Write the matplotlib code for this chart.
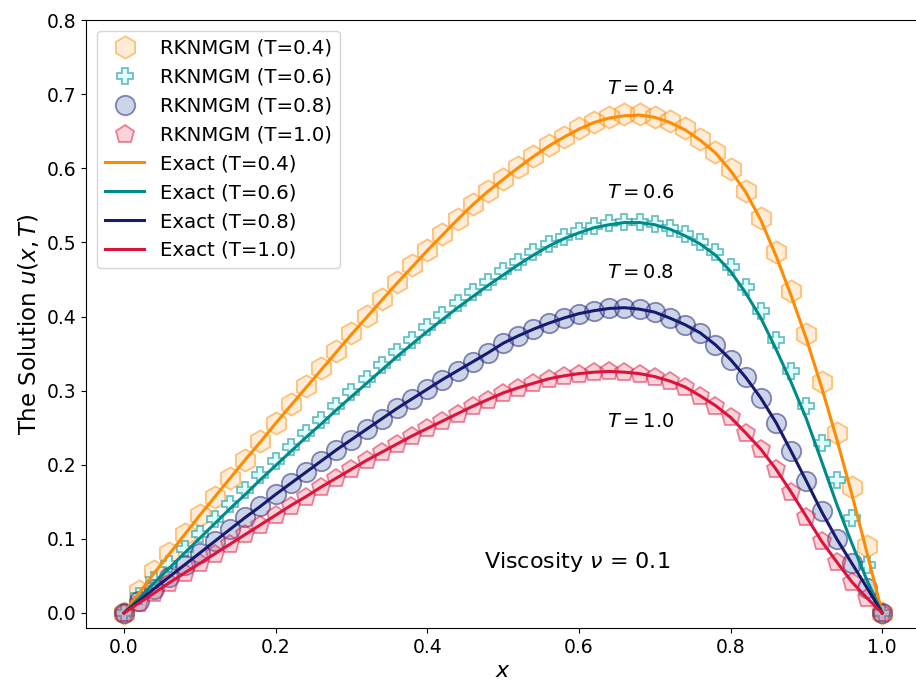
import matplotlib
matplotlib.use("Agg")
import matplotlib.pyplot as plt

plt.rcParams['font.family'] = ['DejaVu Sans']
plt.rcParams['mathtext.fontset'] = 'dejavusans'

x = [0.00, 0.02, 0.04, 0.06, 0.08, 0.10, 0.12, 0.14, 0.16, 0.18,
     0.20, 0.22, 0.24, 0.26, 0.28, 0.30, 0.32, 0.34, 0.36, 0.38,
     0.40, 0.42, 0.44, 0.46, 0.48, 0.50, 0.52, 0.54, 0.56, 0.58,
     0.60, 0.62, 0.64, 0.66, 0.68, 0.70, 0.72, 0.74, 0.76, 0.78,
     0.80, 0.82, 0.84, 0.86, 0.88, 0.90, 0.92, 0.94, 0.96, 0.98, 1.00]

# Exact solution (lines)
exact_04 = [0.000, 0.027, 0.054, 0.080, 0.106, 0.132, 0.157, 0.182, 0.207, 0.231,
            0.256, 0.280, 0.304, 0.328, 0.352, 0.376, 0.399, 0.422, 0.445, 0.467,
            0.489, 0.510, 0.531, 0.551, 0.569, 0.585, 0.601, 0.616, 0.630, 0.642,
            0.653, 0.662, 0.668, 0.671, 0.672, 0.669, 0.662, 0.652, 0.638, 0.621,
            0.597, 0.568, 0.530, 0.482, 0.428, 0.370, 0.305, 0.235, 0.160, 0.081, 0.000]
exact_06 = [0.000, 0.020, 0.041, 0.061, 0.081, 0.101, 0.121, 0.141, 0.160, 0.180,
            0.199, 0.218, 0.237, 0.255, 0.274, 0.292, 0.310, 0.328, 0.346, 0.363,
            0.380, 0.396, 0.412, 0.427, 0.442, 0.456, 0.470, 0.483, 0.495, 0.505,
            0.513, 0.520, 0.524, 0.527, 0.527, 0.524, 0.518, 0.509, 0.498, 0.483,
            0.461, 0.432, 0.398, 0.356, 0.311, 0.262, 0.205, 0.147, 0.094, 0.044, 0.000]
exact_08 = [0.000, 0.0165, 0.033, 0.049, 0.065, 0.081, 0.097, 0.113, 0.129, 0.144,
            0.160, 0.175, 0.190, 0.205, 0.220, 0.234, 0.248, 0.262, 0.276, 0.289,
            0.302, 0.315, 0.327, 0.339, 0.351, 0.364, 0.374, 0.383, 0.391, 0.398,
            0.404, 0.408, 0.411, 0.412, 0.410, 0.406, 0.398, 0.389, 0.378, 0.362,
            0.342, 0.318, 0.290, 0.257, 0.218, 0.178, 0.137, 0.100, 0.067, 0.034, 0.000]
exact_10 = [0.000, 0.0136, 0.027, 0.041, 0.054, 0.067, 0.080, 0.093, 0.106, 0.119,
            0.132, 0.145, 0.157, 0.170, 0.182, 0.194, 0.206, 0.217, 0.228, 0.239,
            0.249, 0.259, 0.269, 0.279, 0.288, 0.297, 0.304, 0.310, 0.316, 0.320,
            0.323, 0.325, 0.326, 0.325, 0.323, 0.319, 0.313, 0.305, 0.293, 0.280,
            0.264, 0.243, 0.221, 0.194, 0.163, 0.130, 0.097, 0.069, 0.042, 0.020, 0.000]

# Numerical (RKNMGM) markers
num_04 = [0.000, 0.030, 0.056, 0.081, 0.106, 0.132, 0.157, 0.182, 0.207, 0.232,
          0.257, 0.282, 0.306, 0.330, 0.354, 0.378, 0.401, 0.424, 0.447, 0.469,
          0.490, 0.511, 0.532, 0.552, 0.570, 0.586, 0.602, 0.617, 0.631, 0.643,
          0.654, 0.663, 0.670, 0.673, 0.673, 0.670, 0.664, 0.654, 0.640, 0.622,
          0.599, 0.570, 0.533, 0.487, 0.434, 0.376, 0.312, 0.243, 0.170, 0.090, 0.000]
num_06 = [0.000, 0.023, 0.045, 0.066, 0.087, 0.107, 0.127, 0.147, 0.166, 0.186,
          0.205, 0.224, 0.243, 0.261, 0.280, 0.298, 0.316, 0.334, 0.352, 0.369,
          0.386, 0.402, 0.418, 0.433, 0.447, 0.461, 0.474, 0.487, 0.498, 0.508,
          0.516, 0.522, 0.526, 0.528, 0.528, 0.525, 0.520, 0.512, 0.501, 0.487,
          0.467, 0.440, 0.408, 0.368, 0.326, 0.279, 0.229, 0.180, 0.128, 0.065, 0.000]
num_08 = exact_08
num_10 = exact_10

fig = plt.figure(figsize=(9.16, 6.84), dpi=100)
ax = fig.add_axes([86.1 / 916, (684 - 627.8) / 684, 860.0 / 916, 607.6 / 684])

ax.plot(x, num_04, linestyle='none', marker='h', markersize=16,
        markerfacecolor=(1.0, 0.55, 0.0, 0.15), markeredgecolor=(1.0, 0.55, 0.0, 0.5),
        markeredgewidth=1.3, label='RKNMGM (T=0.4)')
ax.plot(x, num_06, linestyle='none', marker='P', markersize=11.5,
        markerfacecolor=(0.88, 1.0, 1.0, 1.0), markeredgecolor=(0.0, 0.55, 0.55, 0.55),
        markeredgewidth=1.3, label='RKNMGM (T=0.6)')
ax.plot(x, num_08, linestyle='none', marker='o', markersize=14,
        markerfacecolor=(0.1, 0.25, 0.6, 0.22), markeredgecolor=(0.1, 0.1, 0.44, 0.5),
        markeredgewidth=1.3, label='RKNMGM (T=0.8)')
ax.plot(x, num_10, linestyle='none', marker='p', markersize=13.5,
        markerfacecolor=(0.96, 0.3, 0.45, 0.25), markeredgecolor=(0.86, 0.08, 0.24, 0.5),
        markeredgewidth=1.3, label='RKNMGM (T=1.0)')

ax.plot(x, exact_04, color='darkorange', linewidth=2.2, label='Exact (T=0.4)')
ax.plot(x, exact_06, color='darkcyan', linewidth=2.2, label='Exact (T=0.6)')
ax.plot(x, exact_08, color='midnightblue', linewidth=2.2, label='Exact (T=0.8)')
ax.plot(x, exact_10, color='crimson', linewidth=2.2, label='Exact (T=1.0)')

ax.set_xlim(-0.05, 1.0843)
ax.set_ylim(-0.02, 0.8)
ax.set_xticks([0.0, 0.2, 0.4, 0.6, 0.8, 1.0])
ax.set_yticks([0.0, 0.1, 0.2, 0.3, 0.4, 0.5, 0.6, 0.7, 0.8])
ax.tick_params(labelsize=13.5)

ax.set_xlabel('$x$', fontsize=16)
ax.xaxis.set_label_coords((503.0 - 86.1) / 860.0, -0.055)
ax.set_ylabel('The Solution $u(x, T)$', fontsize=16.5)

ax.text(0.637, 0.708, '$T = 0.4$', fontsize=14, ha='left', va='center')
ax.text(0.637, 0.568, '$T = 0.6$', fontsize=14, ha='left', va='center')
ax.text(0.637, 0.460, '$T = 0.8$', fontsize=14, ha='left', va='center')
ax.text(0.637, 0.259, '$T = 1.0$', fontsize=14, ha='left', va='center')
ax.text(0.475, 0.069, r'Viscosity $\nu$ = 0.1', fontsize=16, ha='left', va='center')

ax.legend(loc='upper left', fontsize=14.2, framealpha=0.8, labelspacing=0.5,
          borderaxespad=0.55)

fig.savefig('out.png', dpi=100)
